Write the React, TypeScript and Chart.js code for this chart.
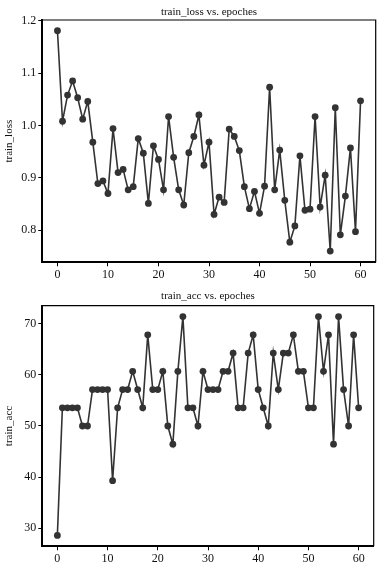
import React, { useEffect, useRef } from "react";
import { Chart, registerables } from "chart.js";

Chart.register(...registerables);

const epochs: number[] = Array.from({ length: 61 }, (_, i) => i);

const trainLoss: number[] = [
  1.181, 1.008, 1.058, 1.085, 1.053, 1.012, 1.046, 0.968, 0.889, 0.894,
  0.870, 0.994, 0.910, 0.916, 0.877, 0.883, 0.975, 0.947, 0.851, 0.961,
  0.935, 0.877, 1.017, 0.939, 0.877, 0.848, 0.948, 0.979, 1.020, 0.924,
  0.968, 0.830, 0.863, 0.853, 0.993, 0.979, 0.952, 0.883, 0.841, 0.874,
  0.832, 0.884, 1.073, 0.877, 0.953, 0.857, 0.777, 0.808, 0.942, 0.838,
  0.840, 1.017, 0.844, 0.905, 0.760, 1.034, 0.791, 0.865, 0.957, 0.797,
  1.047,
];

const trainAcc: number[] = [
  28.57, 53.57, 53.57, 53.57, 53.57, 50.0, 50.0, 57.14, 57.14, 57.14,
  57.14, 39.29, 53.57, 57.14, 57.14, 60.71, 57.14, 53.57, 67.86, 57.14,
  57.14, 60.71, 50.0, 46.43, 60.71, 71.43, 53.57, 53.57, 50.0, 60.71,
  57.14, 57.14, 57.14, 60.71, 60.71, 64.29, 53.57, 53.57, 64.29, 67.86,
  57.14, 53.57, 50.0, 64.29, 57.14, 64.29, 64.29, 67.86, 60.71, 60.71,
  53.57, 53.57, 71.43, 60.71, 67.86, 46.43, 71.43, 57.14, 50.0, 67.86,
  53.57,
];

const xTicks: number[] = [0, 10, 20, 30, 40, 50, 60];
const lossTicks: number[] = [0.8, 0.9, 1.0, 1.1, 1.2];
const accTicks: number[] = [30, 40, 50, 60, 70];

const FONT = "'Liberation Serif', 'DejaVu Serif', serif";
const INK = "#333333";

function makeConfig(
  title: string,
  yLabel: string,
  values: number[],
  yTicks: number[],
  yMin: number,
  yMax: number,
  pad: { top: number; right: number },
  yFmt: (v: number) => string
): any {
  const titlePlugin = {
    id: "customFrame",
    afterDraw(chart: any) {
      const { ctx, chartArea } = chart;
      ctx.save();
      ctx.strokeStyle = "#000";
      ctx.lineWidth = 1.2;
      ctx.beginPath();
      ctx.moveTo(chartArea.left, chartArea.top);
      ctx.lineTo(chartArea.right, chartArea.top);
      ctx.lineTo(chartArea.right, chartArea.bottom);
      ctx.stroke();
      ctx.fillStyle = "#111";
      ctx.font = `11px ${FONT}`;
      ctx.textAlign = "center";
      ctx.textBaseline = "middle";
      ctx.fillText(title, (chartArea.left + chartArea.right) / 2, 12);
      ctx.restore();
    },
  };
  return {
    type: "line",
    data: {
      labels: epochs,
      datasets: [
        {
          data: epochs.map((e, i) => ({ x: e, y: values[i] })),
          borderColor: INK,
          backgroundColor: INK,
          borderWidth: 1.6,
          pointRadius: 3.4,
          pointBackgroundColor: INK,
          pointBorderColor: INK,
          pointBorderWidth: 0,
          tension: 0,
        },
      ],
    },
    options: {
      animation: false,
      responsive: false,
      events: [],
      layout: { padding: { left: 0, top: pad.top, right: pad.right, bottom: 0 } },
      plugins: { legend: { display: false }, tooltip: { enabled: false }, title: { display: false } },
      scales: {
        x: {
          type: "linear",
          min: -3,
          max: 63,
          afterFit: (s: any) => {
            s.height = 21.7;
          },
          afterBuildTicks: (s: any) => {
            s.ticks = xTicks.map((v) => ({ value: v }));
          },
          grid: { display: true, drawOnChartArea: false, drawTicks: true, tickLength: 4, color: "#000", lineWidth: 1 },
          border: { display: true, color: "#000", width: 2 },
          ticks: { color: "#111", font: { family: FONT, size: 12 }, padding: 1, maxRotation: 0, autoSkip: false },
        },
        y: {
          type: "linear",
          min: yMin,
          max: yMax,
          afterFit: (s: any) => {
            s.width = 42.3;
          },
          afterBuildTicks: (s: any) => {
            s.ticks = yTicks.map((v) => ({ value: v }));
          },
          grid: { display: true, drawOnChartArea: false, drawTicks: true, tickLength: 4, color: "#000", lineWidth: 1 },
          border: { display: true, color: "#000", width: 2 },
          ticks: {
            color: "#111",
            font: { family: FONT, size: 12 },
            padding: 2,
            autoSkip: false,
            callback: (v: any) => yFmt(Number(v)),
          },
          title: {
            display: true,
            text: yLabel,
            color: "#111",
            font: { family: FONT, size: 11 },
            padding: { top: 3, bottom: 0 },
          },
        },
      },
    },
    plugins: [titlePlugin],
  };
}

function ChartBox(props: { config: any; top: number }) {
  const ref = useRef<HTMLCanvasElement | null>(null);
  useEffect(() => {
    if (!ref.current) return;
    const chart = new Chart(ref.current, props.config);
    return () => chart.destroy();
  }, []);
  return (
    <canvas
      ref={ref}
      width={390}
      height={284}
      style={{ position: "absolute", left: 0, top: props.top, width: 390, height: 284 }}
    />
  );
}

export default function App() {
  const lossCfg = makeConfig(
    "train_loss vs. epoches",
    "train_loss",
    trainLoss,
    lossTicks,
    0.7385,
    1.2015,
    { top: 20, right: 390 - 375.7 },
    (v) => v.toFixed(1)
  );
  const accCfg = makeConfig(
    "train_acc vs. epoches",
    "train_acc",
    trainAcc,
    accTicks,
    26.43,
    73.57,
    { top: 21.7, right: 390 - 373.7 },
    (v) => String(Math.round(v))
  );
  return (
    <div style={{ position: "fixed", left: 0, top: 0, width: 390, height: 568, background: "#fff" }}>
      <ChartBox config={lossCfg} top={0} />
      <ChartBox config={accCfg} top={284} />
    </div>
  );
}
